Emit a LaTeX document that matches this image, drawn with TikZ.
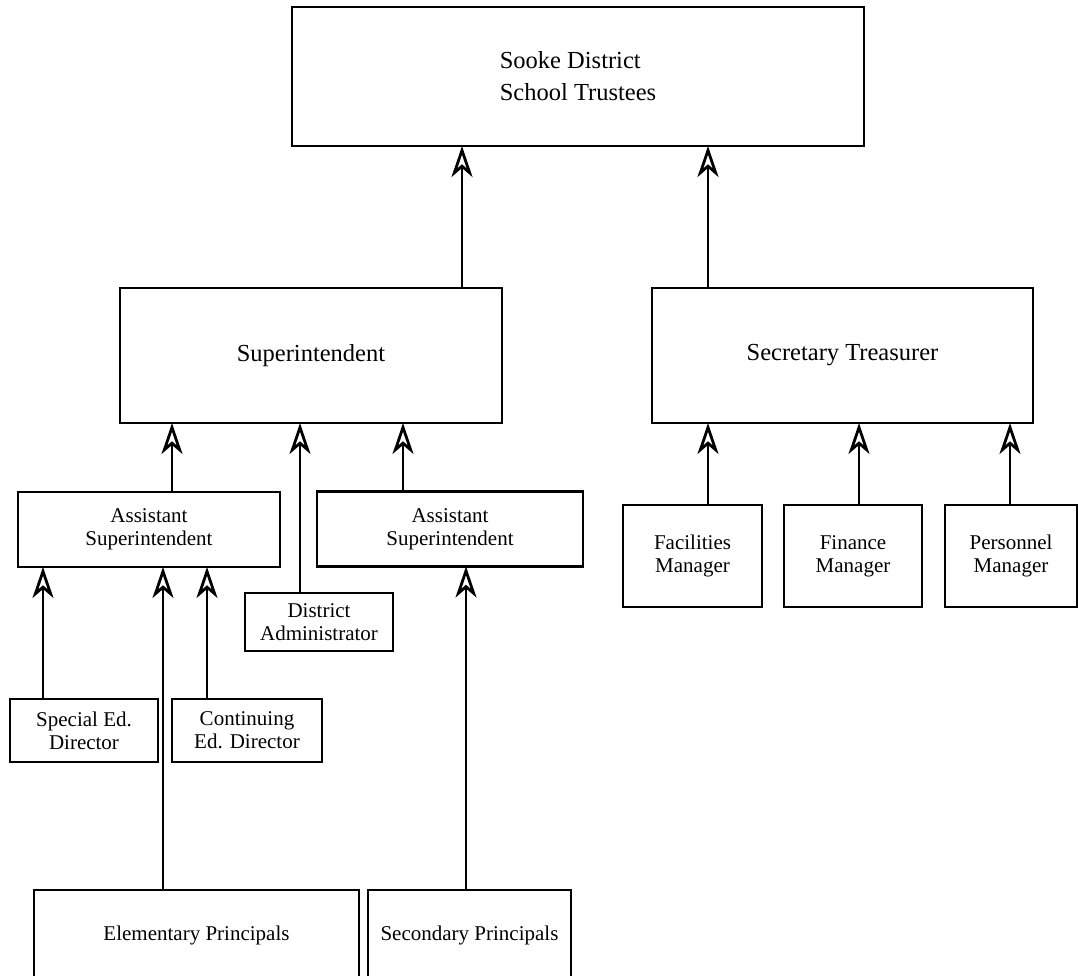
\documentclass[tikz,border=0pt]{standalone}
\usepackage{fontspec}
\setmainfont{Liberation Serif}
\usetikzlibrary{arrows.meta}

\begin{document}
\begin{tikzpicture}[x=1pt,y=-1pt,
     box/.style = {rectangle, draw, line width=2.6pt,% all boxes of the chart
                   outer sep=0pt, inner sep=2pt, align=center},
     big/.style = {box, font=\fontsize{24.5}{32}\selectfont},
   small/.style = {box, font=\fontsize{21}{23}\selectfont},
    link/.style = {line width=2pt,% reporting line, tip at the upper box
                   -{Stealth[open, length=31pt, width=21pt, inset=9pt, line width=2.8pt]}},
                    ]
\useasboundingbox (0,0) rectangle (1078,976);
\clip (0,0) rectangle (1078,976);
% top levels
\node[big, align=left, minimum width=572pt, minimum height=139pt] (trustees) at (578,76.5) {Sooke District\\School Trustees};
\node[big, minimum width=382pt, minimum height=135pt] (supt) at (311,355.5) {Superintendent};
\node[big, minimum width=381pt, minimum height=135pt] (sectr) at (842.5,355.5) {Secretary Treasurer};
% under the superintendent
\node[small, minimum width=262pt, minimum height=75pt] (asstA) at (149,529.5) {Assistant\\Superintendent};
\node[small, minimum width=266pt, minimum height=75pt] (asstB) at (450,529) {Assistant\\Superintendent};
\node[small, minimum width=148pt, minimum height=58pt] (distadm) at (319,622) {District\\Administrator};
\node[small, minimum width=148pt, minimum height=63pt] (speced) at (84,730.5) {Special Ed.\\Director};
\node[small, minimum width=150pt, minimum height=63pt] (conted) at (247,730.5) {Continuing\\Ed. Director};
\node[small, minimum width=325pt, minimum height=90pt] (elem) at (196.5,935) {Elementary Principals};
\node[small, minimum width=203pt, minimum height=90pt] (second) at (469.5,935) {Secondary Principals};
% under the secretary treasurer
\node[small, minimum width=139pt, minimum height=102pt] (facil) at (692.5,556) {Facilities\\Manager};
\node[small, minimum width=138pt, minimum height=102pt] (finance) at (853,556) {Finance\\Manager};
\node[small, minimum width=132pt, minimum height=102pt] (personnel) at (1011,556) {Personnel\\Manager};
% reporting lines
\draw[link] ([xshift=342pt]supt.north west) -- ([xshift=342pt]supt.north west |- trustees.south);
\draw[link] ([xshift=56pt]sectr.north west) -- ([xshift=56pt]sectr.north west |- trustees.south);
\draw[link] ([xshift=154pt]asstA.north west) -- ([xshift=154pt]asstA.north west |- supt.south);
\draw[link] ([xshift=55pt]distadm.north west) -- ([xshift=55pt]distadm.north west |- supt.south);
\draw[link] ([xshift=86pt]asstB.north west) -- ([xshift=86pt]asstB.north west |- supt.south);
\draw[link] ([xshift=33pt]speced.north west) -- ([xshift=33pt]speced.north west |- asstA.south);
\draw[link] ([xshift=129pt]elem.north west) -- ([xshift=129pt]elem.north west |- asstA.south);
\draw[link] ([xshift=35pt]conted.north west) -- ([xshift=35pt]conted.north west |- asstA.south);
\draw[link] ([xshift=98pt]second.north west) -- ([xshift=98pt]second.north west |- asstB.south);
\draw[link] ([xshift=85pt]facil.north west) -- ([xshift=85pt]facil.north west |- sectr.south);
\draw[link] ([xshift=75pt]finance.north west) -- ([xshift=75pt]finance.north west |- sectr.south);
\draw[link] ([xshift=65pt]personnel.north west) -- ([xshift=65pt]personnel.north west |- sectr.south);
\end{tikzpicture}
\end{document}
